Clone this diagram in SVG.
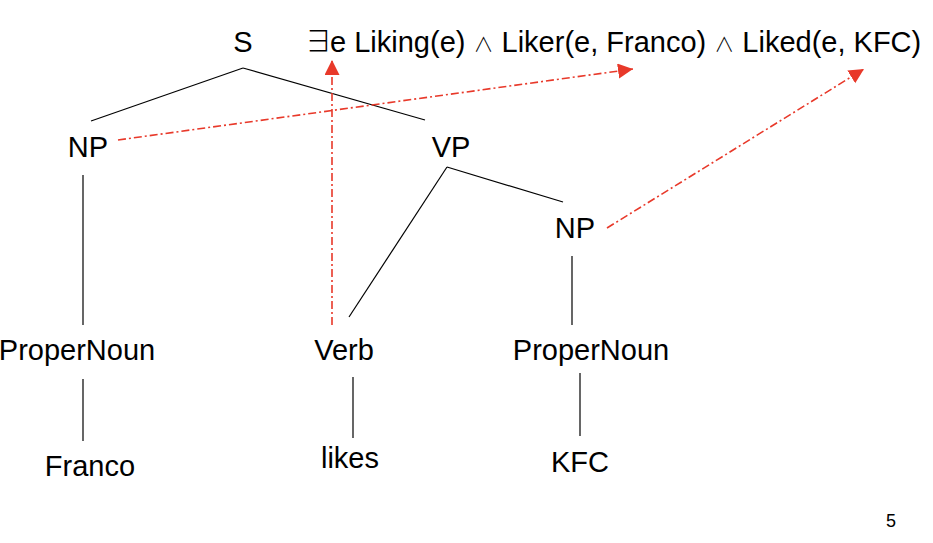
<svg xmlns="http://www.w3.org/2000/svg" width="933" height="543" viewBox="0 0 933 543">
<style>
text{font-family:"Liberation Sans",Arial,sans-serif;font-size:29px;fill:#000;text-anchor:middle}
.sym{font-family:"Noto Sans CJK JP","DejaVu Sans",sans-serif;font-weight:300}
.and{font-size:20px}
.t{stroke:#000;stroke-width:1.2;fill:none}
.r{stroke:#e8392a;stroke-width:1.6;fill:none;stroke-dasharray:8 3 2 3;marker-end:url(#ah)}
</style>
<defs>
<marker id="ah" markerUnits="userSpaceOnUse" markerWidth="16" markerHeight="16" refX="15" refY="7.5" orient="auto">
<path d="M0,0 L15,7.5 L0,15 Z" fill="#e8392a"/>
</marker>
</defs>
<rect width="933" height="543" fill="#fff"/>
<g id="connectors">
<line class="t" x1="243" y1="68" x2="91" y2="121"/>
<line class="t" x1="243" y1="68" x2="425" y2="120"/>
<line class="t" x1="83" y1="175" x2="83" y2="325"/>
<line class="t" x1="447" y1="167" x2="349" y2="317"/>
<line class="t" x1="447" y1="167" x2="563" y2="202"/>
<line class="t" x1="572" y1="256" x2="572" y2="325"/>
<line class="t" x1="83" y1="379" x2="83" y2="441"/>
<line class="t" x1="353" y1="377" x2="353" y2="438"/>
<line class="t" x1="580" y1="373" x2="580" y2="436"/>
<line class="r" x1="332" y1="325" x2="332" y2="60"/>
<line class="r" x1="118" y1="140" x2="633" y2="69"/>
<line class="r" x1="607" y1="228" x2="864" y2="69"/>
</g>
<g id="S"><text x="243" y="52">S</text></g>
<g id="formula"><text x="304" y="52" style="text-anchor:start"><tspan class="sym">∃</tspan><tspan dx="-3">e Liking(e) </tspan><tspan class="sym and">∧</tspan> Liker(e, Franco) <tspan class="sym and">∧</tspan> Liked(e, KFC)</text></g>
<g id="NP1"><text x="88" y="157">NP</text></g>
<g id="VP"><text x="451" y="157">VP</text></g>
<g id="NP2"><text x="575" y="238">NP</text></g>
<g id="ProperNoun1"><text x="77" y="360">ProperNoun</text></g>
<g id="Verb"><text x="344" y="360">Verb</text></g>
<g id="ProperNoun2"><text x="591" y="360">ProperNoun</text></g>
<g id="Franco"><text x="90" y="476">Franco</text></g>
<g id="likes"><text x="350" y="468">likes</text></g>
<g id="KFC"><text x="580" y="472">KFC</text></g>
<g id="page"><text x="891" y="527" style="font-size:18px">5</text></g>
</svg>
